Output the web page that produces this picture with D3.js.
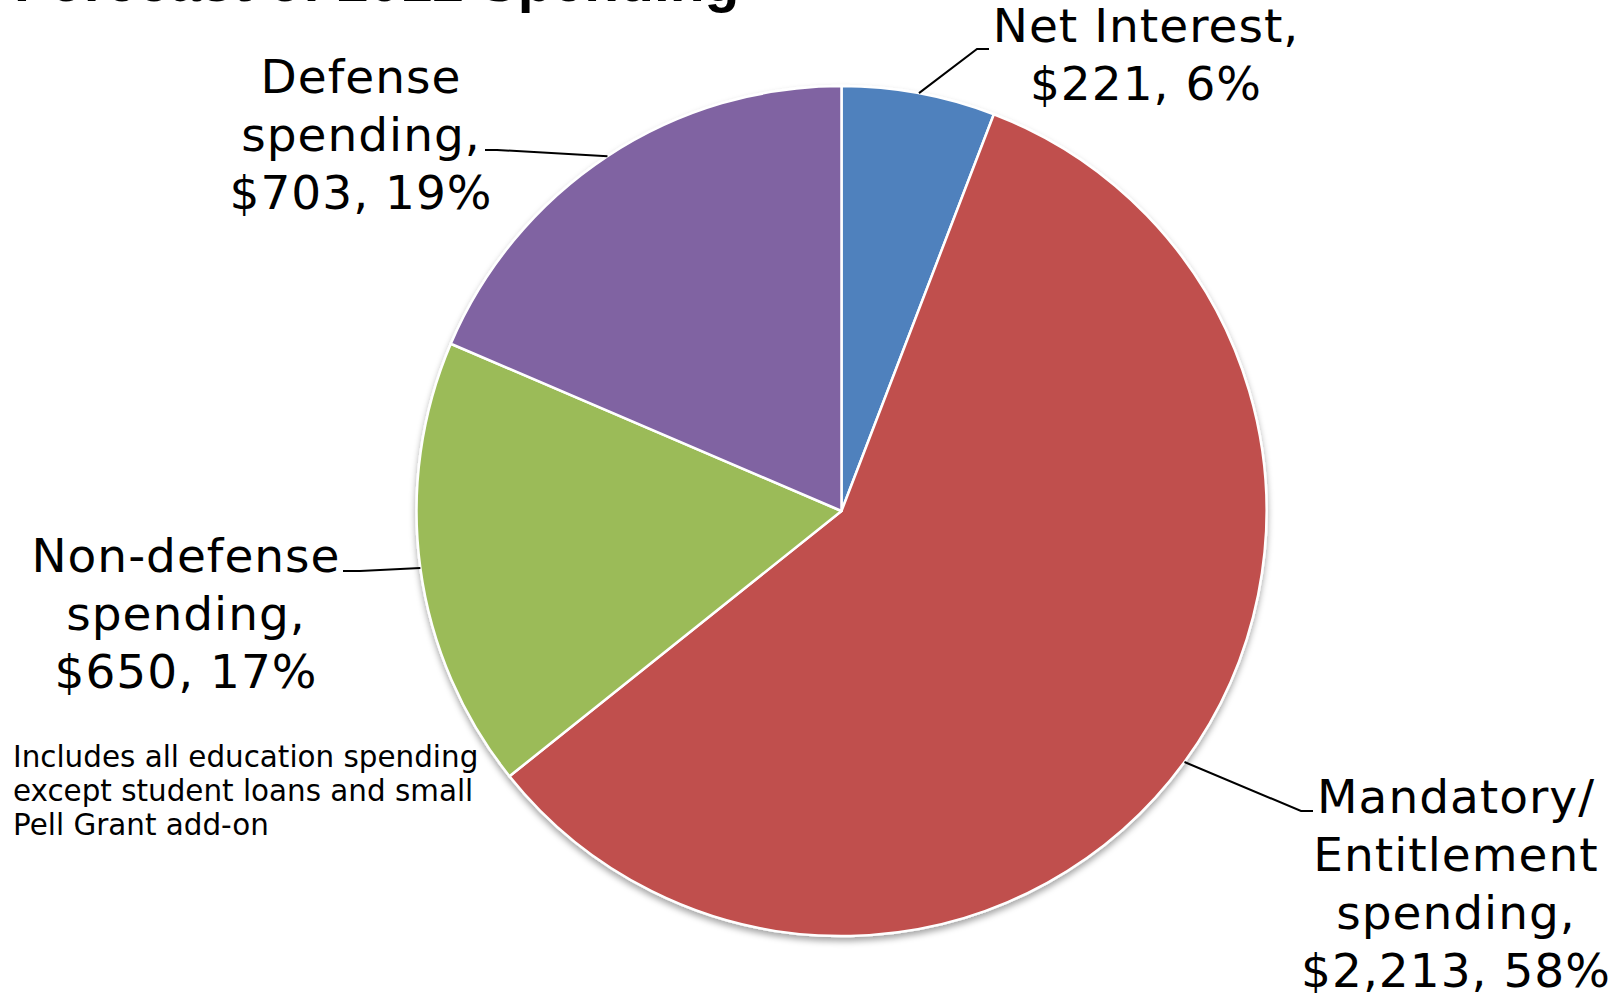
<!DOCTYPE html>
<html>
<head>
<meta charset="utf-8">
<script src="https://cdn.jsdelivr.net/npm/d3@7"></script>
<style>
  html, body { margin: 0; padding: 0; background: #fff; }
  svg { display: block; }
  .lbl { font-family: "DejaVu Sans", Verdana, sans-serif; font-size: 47px; letter-spacing: 1px; fill: #000; }
  .note { font-family: "DejaVu Sans", Verdana, sans-serif; font-size: 29.4px; fill: #000; }
  .title { font-family: "Liberation Sans", Arial, sans-serif; font-weight: bold; font-size: 57px; fill: #000; }
</style>
</head>
<body>
<div id="chart"></div>
<script>
// data
var categories = ["Net Interest", "Mandatory/Entitlement spending", "Non-defense spending", "Defense spending"]
var values     = [221, 2213, 650, 703]
var nameLines  = [["Net Interest,"], ["Mandatory/", "Entitlement", "spending,"], ["Non-defense", "spending,"], ["Defense", "spending,"]]
var colors     = ["#4F81BD", "#C0504D", "#9BBB59", "#8064A2"]
var noteLines  = ["Includes all education spending", "except student loans and small", "Pell Grant add-on"]
var title      = "Forecast of 2012 Spending"

var width = 1624, height = 993
var cx = 841.5, cy = 511, r = 425

// label layout: centre x, first baseline, leader elbow + end
var labelPos = [
  {x: 1146, y: 42,  elbow: [977, 49],   end: [989, 49]},
  {x: 1456, y: 813, elbow: [1301, 811], end: [1313, 811]},
  {x: 186,  y: 572, elbow: [360, 571],  end: [343, 571]},
  {x: 361,  y: 93,  elbow: [497, 150],  end: [485, 150]}
]

var svg = d3.select("#chart").append("svg")
  .attr("width", width)
  .attr("height", height)

var defs = svg.append("defs")
var f = defs.append("filter").attr("id", "shadow")
  .attr("x", "-10%").attr("y", "-10%").attr("width", "120%").attr("height", "120%")
f.append("feDropShadow")
  .attr("dx", 0).attr("dy", 4).attr("stdDeviation", 3)
  .attr("flood-color", "#000").attr("flood-opacity", 0.35)

svg.append("text")
  .attr("class", "title")
  .attr("x", 14)
  .attr("y", 1)
  .text(title)

var total = d3.sum(values)
var data = values.map((v, i) => ({name: categories[i], value: v, i: i}))

var pie = d3.pie().sort(null).value(d => d.value)
var arcs = pie(data)

var arc = d3.arc().innerRadius(0).outerRadius(r)
var edge = d3.arc().innerRadius(r).outerRadius(r)

var g = svg.append("g")
  .attr("transform", "translate(" + cx + "," + cy + ")")

g.append("g").attr("filter", "url(#shadow)")
  .selectAll("path")
  .data(arcs)
  .join("path")
    .attr("d", arc)
    .attr("fill", d => colors[d.data.i])
    .attr("stroke", "#fff")
    .attr("stroke-width", 2.5)
    .attr("stroke-linejoin", "round")

// leader lines
svg.append("g").selectAll("path")
  .data(arcs)
  .join("path")
    .attr("fill", "none")
    .attr("stroke", "#000")
    .attr("stroke-width", 2)
    .attr("d", d => {
      var c = edge.centroid(d), p = labelPos[d.data.i]
      return "M" + (cx + c[0]) + "," + (cy + c[1]) + "L" + p.elbow + "L" + p.end
    })

var pct = d3.format(".0%"), num = d3.format(",")

var labels = svg.append("g").selectAll("text")
  .data(arcs)
  .join("text")
    .attr("class", "lbl")
    .attr("text-anchor", "middle")
    .attr("x", d => labelPos[d.data.i].x)
    .attr("y", d => labelPos[d.data.i].y)

labels.each(function(d) {
  var lines = nameLines[d.data.i].concat(["$" + num(d.data.value) + ", " + pct(d.data.value / total)])
  var p = labelPos[d.data.i]
  d3.select(this).selectAll("tspan")
    .data(lines)
    .join("tspan")
      .attr("x", p.x)
      .attr("dy", (l, k) => k == 0 ? 0 : 58)
      .text(l => l)
})

svg.append("text")
  .attr("class", "note")
  .attr("x", 13)
  .attr("y", 767)
  .selectAll("tspan")
  .data(noteLines)
  .join("tspan")
    .attr("x", 13)
    .attr("dy", (l, k) => k == 0 ? 0 : 34)
    .text(l => l)
</script>
</body>
</html>
